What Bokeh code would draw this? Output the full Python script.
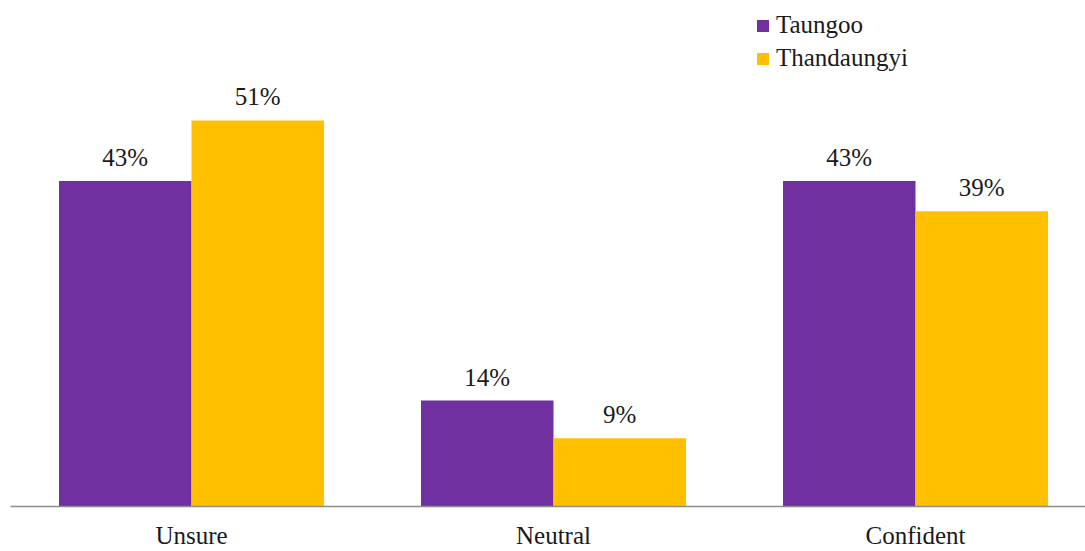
from bokeh.plotting import figure
from bokeh.models import ColumnDataSource, LabelSet, Legend, LegendItem, Range1d, FixedTicker
from bokeh.core.properties import value
from bokeh.embed import file_html
from bokeh.resources import INLINE

categories = ["Unsure", "Neutral", "Confident"]
taungoo = [43, 14, 43]
thandaungyi = [51, 9, 39]
series_names = ["Taungoo", "Thandaungyi"]

PURPLE = "#7030A0"
GOLD = "#FFC000"
FONT = "Liberation Serif"
TEXT_COLOR = "#1a1a1a"
BAR_W = 0.366
OFFSET = 0.183

xs = list(range(len(categories)))
src_a = ColumnDataSource(dict(
    x=[i - OFFSET for i in xs], top=taungoo,
    label=[f"{v}%" for v in taungoo]))
src_b = ColumnDataSource(dict(
    x=[i + OFFSET for i in xs], top=thandaungyi,
    label=[f"{v}%" for v in thandaungyi]))

p = figure(width=1085, height=551, output_backend="svg", toolbar_location=None,
           x_range=Range1d(-0.5, -0.5 + 1075 / 362), y_range=Range1d(0, 508 / 7.6),
           min_border_left=10, min_border_right=0, min_border_top=0, min_border_bottom=43)
p.outline_line_color = None
p.xgrid.visible = False
p.ygrid.visible = False
p.yaxis.visible = False

ra = p.vbar(x="x", top="top", width=BAR_W, source=src_a, fill_color=PURPLE, line_color=None)
rb = p.vbar(x="x", top="top", width=BAR_W, source=src_b, fill_color=GOLD, line_color=None)

for src in (src_a, src_b):
    p.add_layout(LabelSet(x="x", y="top", text="label", source=src, text_align="center",
                          text_baseline="alphabetic", y_offset=15,
                          text_font=value(FONT), text_font_size="25px", text_color=TEXT_COLOR))

ax = p.xaxis[0]
ax.ticker = FixedTicker(ticks=xs)
ax.major_label_overrides = {i: c for i, c in zip(xs, categories)}
ax.major_tick_line_color = None
ax.minor_tick_line_color = None
ax.major_tick_out = 0
ax.axis_line_color = "#8C8C8C"
ax.axis_line_width = 1.5
ax.major_label_text_font = FONT
ax.major_label_text_font_size = "25px"
ax.major_label_text_color = TEXT_COLOR
ax.major_label_standoff = 15

legend = Legend(items=[LegendItem(label=series_names[0], renderers=[ra]),
                       LegendItem(label=series_names[1], renderers=[rb])],
                location=(745, 434), orientation="vertical",
                glyph_width=15, glyph_height=15, label_standoff=6, spacing=5,
                padding=0, margin=0, border_line_color=None, background_fill_alpha=0,
                label_text_font=FONT, label_text_font_size="25px", label_text_color=TEXT_COLOR)
p.add_layout(legend)

open("out.html", "w").write(file_html(p, INLINE))
